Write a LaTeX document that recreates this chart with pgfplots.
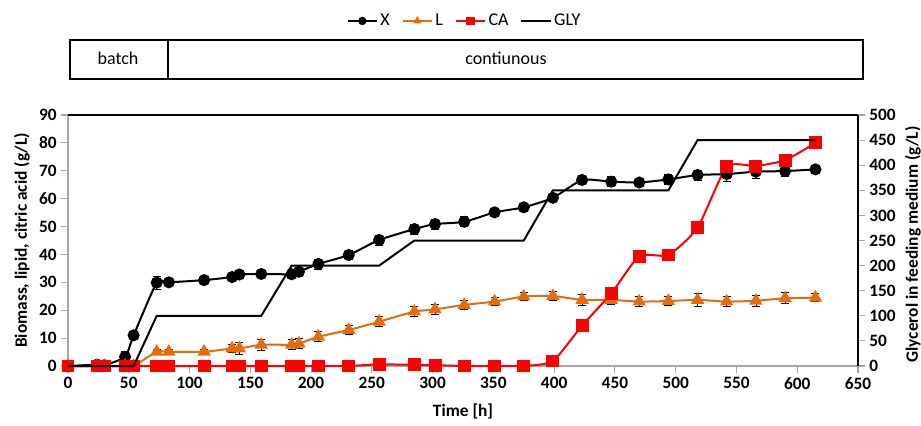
\documentclass[border=0pt]{standalone}
\usepackage{fontspec}
\setmainfont{Carlito}
\usepackage{pgfplots}
\usepackage{pgfplotstable}
\pgfplotsset{compat=1.18}

\definecolor{orng}{RGB}{228,108,10}

% time, biomass, lipid, citric acid (g/L) with errors
\pgfplotstableread{
t X Xe L Le CA CAe
0 0 0.3 0 0.2 0 0.2
24 0.5 1.2 0 0.2 0 0.2
30 0.3 0.8 0 0.2 0 0.2
47 3.3 2.0 0 0.2 0 0.2
54 11.0 1.5 0 0.2 0 0.2
73 29.9 2.3 5.1 1.0 0 0.2
83 30.0 1.2 5.1 1.0 0 0.2
112 30.8 1.2 5.1 1.0 0 0.2
135 31.9 1.3 6.3 1.5 0 0.2
141 32.8 1.2 6.3 2.0 0 0.2
159 33.0 1.2 7.6 2.0 0 0.2
184 32.9 1.2 7.6 1.8 0 0.2
190 33.8 1.5 8.0 1.8 0 0.2
206 36.6 1.8 10.5 1.8 0 0.2
231 39.8 1.5 12.9 1.5 0 0.2
256 45.2 1.8 15.9 1.8 0.6 0.3
285 49.1 1.8 19.5 1.8 0.4 0.3
302 50.9 1.8 20.3 1.8 0.3 0.3
326 51.7 1.8 21.9 1.5 0 0.2
351 55.1 1.5 23.1 1.5 0 0.2
375 56.9 1.5 24.9 1.5 0 0.2
399 60.3 1.2 25.1 1.5 1.8 0.3
423 66.7 1.5 23.7 2.0 14.5 0.5
447 66.1 1.8 23.7 1.5 26.0 0.5
470 65.8 1.0 23.1 1.8 39.4 0.5
494 66.9 1.8 23.3 1.5 39.8 0.5
518 68.5 1.8 23.7 2.3 49.6 0.5
542 68.8 2.5 23.1 1.8 71.4 1.5
566 69.7 2.5 23.4 2.0 71.7 1.5
590 69.9 2.0 24.3 2.0 73.8 1.5
615 70.5 1.6 24.5 1.5 80.0 0.8
}\data

% glycerol in feeding medium (g/L)
\pgfplotstableread{
t G
0 0
54 0
73 100
159 100
184 200
256 200
285 250
375 250
399 350
494 350
518 450
615 450
}\gly

\begin{document}
\begin{tikzpicture}
\path[use as bounding box] (0,0) rectangle (690.75pt,318.75pt);

% batch / continuous boxes
\draw[line width=1.5pt] (52.5pt,259.5pt) rectangle (647.25pt,288.75pt);
\draw[line width=1.5pt] (126pt,259.5pt) -- (126pt,288.75pt);
\node[font=\fontsize{13.5}{14}\selectfont] at (88.5pt,275pt) {batch};
\node[font=\fontsize{13.5}{14}\selectfont] at (379.5pt,275pt) {contiunous};

\begin{axis}[
  at={(51pt,44.25pt)}, anchor=south west,
  width=592.5pt, height=188.25pt, scale only axis,
  xmin=0, xmax=650, ymin=0, ymax=90,
  xtick={0,50,...,650}, ytick={0,10,...,90},
  axis x line*=bottom, axis y line*=left,
  axis line style={gray!70, line width=0.8pt},
  tick align=outside, major tick length=5pt,
  tick style={gray!70, line width=0.8pt},
  tick label style={font=\fontsize{13}{13}\selectfont\bfseries},
  /pgf/number format/assume math mode=true,
  xlabel={Time [h]}, ylabel={Biomass, lipid, citric acid (g/L)},
  label style={font=\fontsize{13}{14}\selectfont\bfseries},
  xlabel style={yshift=-4pt},
  clip=false,
  legend columns=4,
  legend style={at={(0.5025,1.3745)}, anchor=center, draw=none,
    font=\fontsize{13.5}{14}\selectfont,
    /tikz/every even column/.append style={column sep=7pt}},
  legend image code/.code={%
    \draw[mark repeat=2, mark phase=2, #1, mark size=2.5pt, line width=1.2pt]
      plot coordinates {(0pt,0pt) (11pt,0pt) (22pt,0pt)};},
]
\addplot[black, line width=1.5pt, smooth, tension=0.35,
  mark=*, mark size=3.75pt, mark options={solid},
  error bars/.cd, y dir=both, y explicit,
  error bar style={black, line width=0.6pt},
  error mark options={rotate=90, black, mark size=3pt, line width=0.6pt}]
  table[x=t, y=X, y error=Xe]{\data};
\addlegendentry{X}
\addplot[orng, line width=1.5pt, smooth, tension=0.35,
  mark=triangle*, mark size=4.3pt, mark options={solid},
  error bars/.cd, y dir=both, y explicit,
  error bar style={black, line width=0.6pt},
  error mark options={rotate=90, black, mark size=3pt, line width=0.6pt}]
  table[x=t, y=L, y error=Le]{\data};
\addlegendentry{L}
\addplot[red, line width=1.5pt, smooth, tension=0.35,
  mark=square*, mark size=4.1pt, mark options={solid},
  error bars/.cd, y dir=both, y explicit,
  error bar style={red, line width=0.6pt},
  error mark options={rotate=90, red, mark size=3pt, line width=0.6pt}]
  table[x=t, y=CA, y error=CAe]{\data};
\addlegendentry{CA}
\addlegendimage{black, line width=1.5pt, no marks}
\addlegendentry{GLY}
\end{axis}

\begin{axis}[
  at={(51pt,44.25pt)}, anchor=south west,
  width=592.5pt, height=188.25pt, scale only axis,
  xmin=0, xmax=650, ymin=0, ymax=500,
  axis x line=none, axis y line*=right,
  ytick={0,50,...,500},
  axis line style={black, line width=1.5pt},
  tick align=outside, major tick length=5pt,
  tick style={gray!70, line width=0.8pt},
  tick label style={font=\fontsize{13}{13}\selectfont\bfseries},
  /pgf/number format/assume math mode=true,
  ylabel={Glycerol in feeding medium (g/L)},
  label style={font=\fontsize{13}{14}\selectfont\bfseries},
  ylabel style={xshift=-3pt},
  clip=false,
]
\addplot[black, line width=1.5pt, no marks] table[x=t, y=G]{\gly};
\draw[black, line width=1.5pt] (rel axis cs:0,1) -- (rel axis cs:1,1);
\end{axis}
\end{tikzpicture}
\end{document}
